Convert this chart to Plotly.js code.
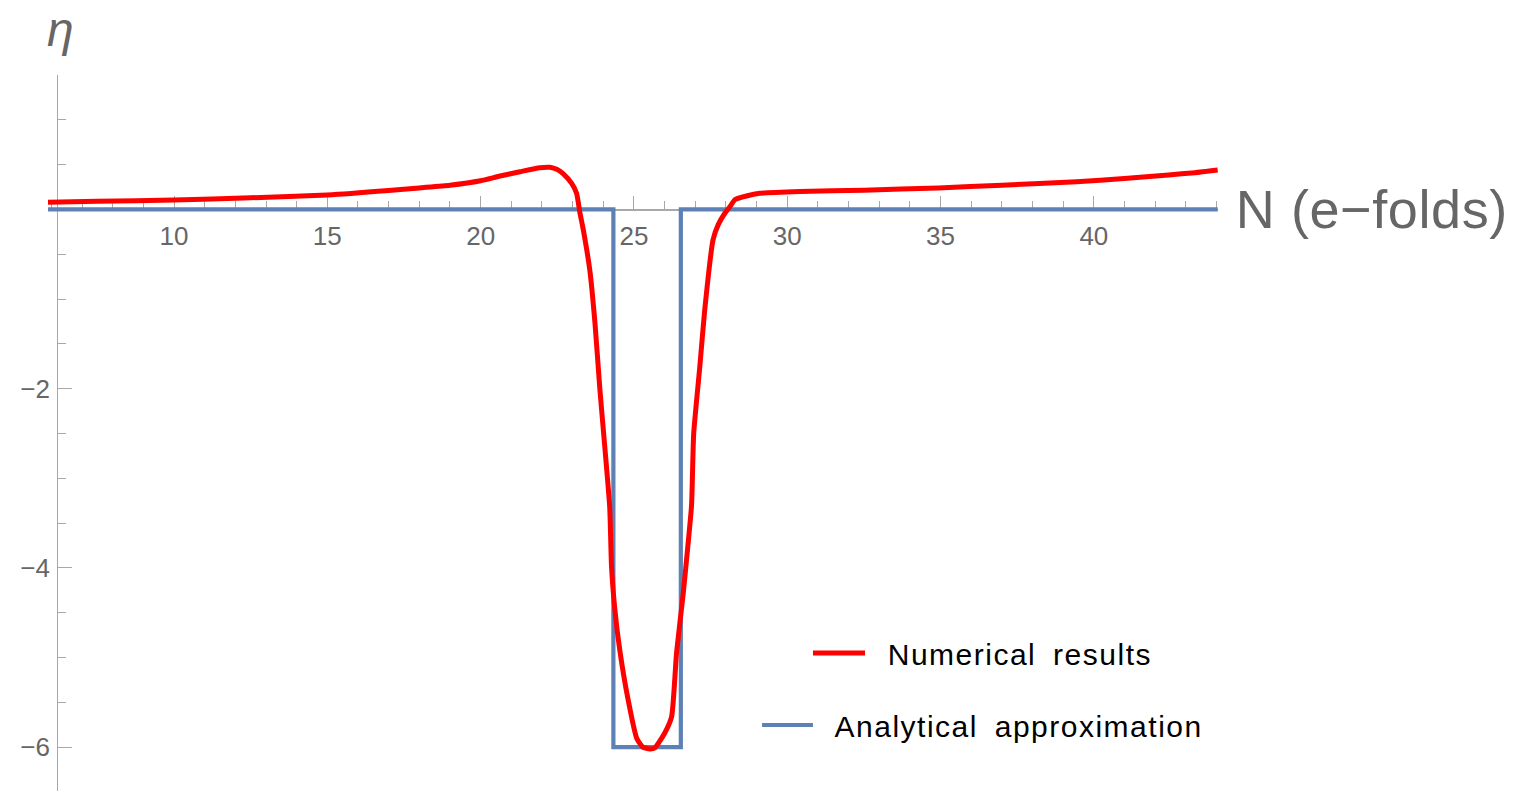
<!DOCTYPE html>
<html>
<head>
<meta charset="utf-8">
<script src="https://cdn.plot.ly/plotly-3.0.1.min.js"></script>
<style>
html,body{margin:0;padding:0;background:#fff;}
#chart{width:1522px;height:791px;}
.annotation[data-index="2"] text, .annotation[data-index="3"] text{letter-spacing:1.5px;word-spacing:7px;}
.annotation[data-index="0"] text{letter-spacing:0.6px;}
</style>
</head>
<body>
<div id="chart"></div>
<script>
// ---- data ----
const seriesNames = ["Numerical results", "Analytical approximation"];
const xTitle = "N (e\u2212folds)";
const yTitle = "\u03b7";

// Numerical results
const nNum = [5.89, 7.5, 10, 12.5, 15, 17, 18, 19, 20, 20.6, 21.28, 21.93, 22.26, 22.5, 22.69, 22.97, 23.13, 23.24, 23.35,
  23.56, 23.73, 23.89, 24.05, 24.21, 24.27, 24.38, 24.54, 24.81, 25.09, 25.29, 25.52, 25.68, 26.01, 26.23,
  26.39, 26.61, 26.77, 26.88, 26.95, 27.15, 27.31, 27.58, 27.75, 27.97, 28.13, 28.3, 28.67, 29.1, 30.41,
  32.5, 34.93, 37, 39.44, 41, 42.44, 43.3, 44.04];
const etaNum = [0.08, 0.09, 0.106, 0.13, 0.16, 0.21, 0.24, 0.27, 0.32, 0.37, 0.42, 0.465, 0.47, 0.445, 0.40, 0.29, 0.18, -0.04, -0.23,
  -0.675, -1.27, -2.01, -2.65, -3.32, -3.99, -4.47, -4.92, -5.47, -5.9, -6.0, -6.02, -6.01, -5.84, -5.66,
  -4.95, -4.28, -3.72, -3.3, -2.5, -1.75, -1.12, -0.34, -0.17, -0.04, 0.03, 0.11, 0.15, 0.18, 0.20,
  0.215, 0.24, 0.27, 0.31, 0.345, 0.385, 0.41, 0.44];

// Analytical approximation (step)
const nApprox = [5.89, 24.33, 24.33, 26.53, 26.53, 44.04];
const etaApprox = [0, 0, -6, -6, 0, 0];

// axis ticks
const xMajorTicks = [10, 15, 20, 25, 30, 35, 40];
const yMajorTicks = [-6, -4, -2];

// ---- layout constants ----
const xRange = [5.89, 44.05];
const yRange = [-6.49, 1.5];
const yAxisAtX = 6.19;
const gray = "#666666";
const axisGray = "#a8a8a8";
const font = "Liberation Sans, Arial, sans-serif";

const traces = [
  {x: nApprox, y: etaApprox, type: "scatter", mode: "lines", name: seriesNames[1],
   line: {color: "#5e81b5", width: 4.2}, hoverinfo: "skip"},
  {x: nNum, y: etaNum, type: "scatter", mode: "lines", name: seriesNames[0],
   line: {color: "#ff0000", width: 5, shape: "spline", smoothing: 0.5}, hoverinfo: "skip"}
];

const xPos = (0 - yRange[0]) / (yRange[1] - yRange[0]);
const yPos = (yAxisAtX - xRange[0]) / (xRange[1] - xRange[0]);

const layout = {
  width: 1522, height: 791,
  margin: {l: 48, r: 304, t: 75, b: 0},
  paper_bgcolor: "#fff", plot_bgcolor: "#fff",
  showlegend: false,
  font: {family: font, color: gray},
  xaxis: {
    range: xRange, anchor: "free", position: xPos, layer: "below traces",
    showgrid: false, zeroline: false, showline: true, linecolor: axisGray, linewidth: 1.3,
    tickmode: "array", tickvals: xMajorTicks, ticktext: xMajorTicks.map(String),
    ticks: "inside", ticklen: 13, tickwidth: 1, tickcolor: axisGray,
    tickfont: {family: font, size: 26, color: gray},
    ticklabelstandoff: 3,
    minor: {tickmode: "linear", tick0: 0, dtick: 1, ticks: "inside", ticklen: 8, tickwidth: 1, tickcolor: axisGray},
    fixedrange: true
  },
  yaxis: {
    range: yRange, anchor: "free", position: yPos, layer: "below traces",
    showgrid: false, zeroline: false, showline: true, linecolor: axisGray, linewidth: 1.3,
    tickmode: "array", tickvals: yMajorTicks, ticktext: yMajorTicks.map(v => "\u2212" + Math.abs(v)),
    ticks: "inside", ticklen: 14, tickwidth: 1, tickcolor: axisGray,
    tickfont: {family: font, size: 26, color: gray},
    ticklabelstandoff: 2,
    minor: {tickmode: "linear", tick0: 0, dtick: 0.5, ticks: "inside", ticklen: 8, tickwidth: 1, tickcolor: axisGray},
    fixedrange: true
  },
  annotations: [
    {text: xTitle, xref: "paper", yref: "y", x: 1.0165, y: 0, xanchor: "left", yanchor: "middle",
     showarrow: false, font: {family: font, size: 54, color: gray}},
    {text: "<i>" + yTitle + "</i>", xref: "paper", yref: "paper", x: 0.0103, y: 1.103, xanchor: "center", yanchor: "top",
     showarrow: false, font: {family: font, size: 48, color: gray}},
    {text: seriesNames[0], xref: "paper", yref: "paper", x: 0.7303, y: 0.19, xanchor: "left", yanchor: "middle",
     showarrow: false, font: {family: font, size: 30, color: "#000"}},
    {text: seriesNames[1], xref: "paper", yref: "paper", x: 0.6889, y: 0.0894, xanchor: "left", yanchor: "middle",
     showarrow: false, font: {family: font, size: 30, color: "#000"}}
  ],
  shapes: [
    {type: "line", xref: "paper", yref: "paper", x0: 0.6538, x1: 0.6983, y0: 0.1927, y1: 0.1927,
     line: {color: "#ff0000", width: 5}},
    {type: "line", xref: "paper", yref: "paper", x0: 0.6103, x1: 0.6538, y0: 0.0922, y1: 0.0922,
     line: {color: "#5e81b5", width: 4.2}}
  ]
};

Plotly.newPlot("chart", traces, layout, {staticPlot: true, displayModeBar: false});
</script>
</body>
</html>
